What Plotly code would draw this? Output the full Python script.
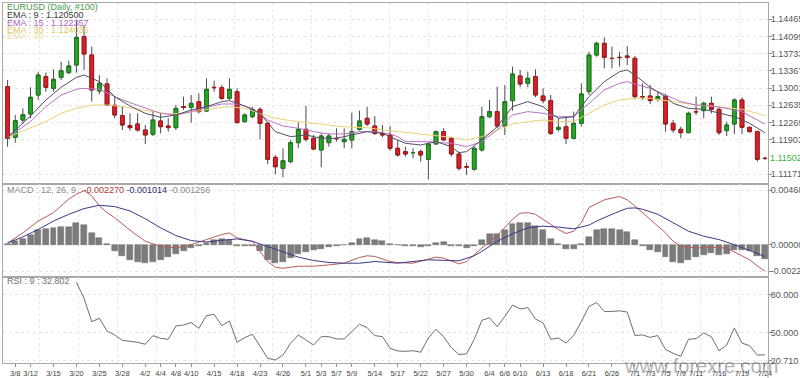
import plotly.graph_objects as go

# ---------------- data ----------------
dates = ["3/7","3/8","3/11","3/12","3/13","3/14","3/15","3/18","3/19","3/20","3/21","3/22","3/25","3/26","3/27","3/28","3/29",
         "4/1","4/2","4/3","4/4","4/5","4/8","4/9","4/10","4/11","4/12","4/15","4/16","4/17","4/18","4/19","4/22","4/23","4/24","4/25","4/26","4/29","4/30",
         "5/1","5/2","5/3","5/6","5/7","5/8","5/9","5/10","5/13","5/14","5/15","5/16","5/17","5/20","5/21","5/22","5/23","5/24","5/27","5/28","5/29","5/30","5/31",
         "6/3","6/4","6/5","6/6","6/7","6/10","6/11","6/12","6/13","6/14","6/17","6/18","6/19","6/20","6/21","6/24","6/25","6/26","6/27","6/28",
         "7/1","7/2","7/3","7/4","7/5","7/8","7/9","7/10","7/11","7/12","7/15","7/16","7/17","7/18","7/19","7/22","7/23","7/24"]

open_ = [1.13031,1.11952,1.12321,1.12449,1.12853,1.13244,1.12995,1.13229,1.13329,1.13492,
         1.14095,1.13705,1.12939,1.13088,1.12633,1.12413,1.12200,1.12236,1.12108,1.12016,
         1.12300,1.12193,1.12158,1.12605,1.12591,1.12711,1.12513,1.13017,1.13010,1.12782,
         1.12924,1.12286,1.12392,1.12548,1.12250,1.11526,1.11292,1.11434,1.11838,1.12122,
         1.11931,1.11682,1.11838,1.11931,1.11860,1.11895,1.12122,1.12357,1.12193,1.12037,
         1.12002,1.11718,1.11647,1.11626,1.11647,1.11484,1.11810,1.12073,1.11931,1.11597,
         1.11327,1.11271,1.11682,1.12392,1.12499,1.12193,1.12733,1.13258,1.13102,1.13244,
         1.12832,1.12733,1.12122,1.12179,1.11931,1.12250,1.12924,1.13705,1.13953,1.13634,
         1.13655,1.13684,1.13634,1.12818,1.12832,1.12761,1.12818,1.12250,1.12122,1.12051,
         1.12499,1.12520,1.12676,1.12548,1.12094,1.12236,1.12747,1.12165,1.12073,1.11505]
high = [1.13173,1.12428,1.12569,1.13017,1.13350,1.13329,1.13400,1.13563,1.13584,1.14436,
        1.14344,1.13882,1.13279,1.13208,1.12818,1.12619,1.12463,1.12463,1.12215,1.12499,
        1.12463,1.12357,1.12640,1.12818,1.12853,1.12889,1.13208,1.13159,1.13066,1.13208,
        1.12995,1.12463,1.12605,1.12591,1.12286,1.11576,1.11718,1.11895,1.12264,1.12619,
        1.12002,1.12037,1.12037,1.12144,1.12144,1.12477,1.12520,1.12605,1.12406,1.12215,
        1.12193,1.11895,1.11753,1.11718,1.11697,1.11838,1.12094,1.12144,1.11966,1.11647,
        1.11413,1.11753,1.12605,1.12747,1.13031,1.13066,1.13457,1.13386,1.13350,1.13400,
        1.12995,1.12853,1.12357,1.12392,1.12499,1.13102,1.13776,1.13989,1.14081,1.13882,
        1.13776,1.13897,1.13684,1.13102,1.13066,1.12924,1.12875,1.12321,1.12179,1.12499,
        1.12818,1.12711,1.12818,1.12591,1.12286,1.12782,1.12804,1.12179,1.12094,1.11540]
low = [1.11753,1.11838,1.12250,1.12357,1.12747,1.12924,1.12924,1.13173,1.13300,1.13329,
       1.13386,1.12711,1.12868,1.12619,1.12357,1.12108,1.12094,1.12073,1.11810,1.11980,
       1.12037,1.12073,1.12108,1.12534,1.12264,1.12463,1.12499,1.12924,1.12747,1.12747,
       1.12250,1.12264,1.12357,1.11909,1.11384,1.11171,1.11100,1.11398,1.11718,1.11860,
       1.11682,1.11313,1.11753,1.11860,1.11718,1.11718,1.12094,1.12193,1.12002,1.11952,
       1.11668,1.11540,1.11540,1.11505,1.11434,1.11058,1.11803,1.11881,1.11540,1.11242,
       1.11150,1.11242,1.11647,1.12357,1.12144,1.12002,1.12520,1.13017,1.13017,1.12804,
       1.12676,1.12002,1.12073,1.11810,1.11909,1.12179,1.12853,1.13670,1.13421,1.13421,
       1.13457,1.13492,1.12761,1.12747,1.12662,1.12711,1.12073,1.12051,1.11931,1.12037,
       1.12428,1.12357,1.12463,1.12002,1.11980,1.12023,1.12023,1.12051,1.11434,1.11469]
close = [1.11931,1.12307,1.12435,1.12804,1.13279,1.13017,1.13187,1.13371,1.13471,1.14081,
         1.13726,1.12960,1.13102,1.12640,1.12428,1.12215,1.12158,1.12108,1.12002,1.12321,
         1.12179,1.12158,1.12569,1.12591,1.12676,1.12499,1.12974,1.13010,1.12782,1.12974,
         1.12264,1.12428,1.12548,1.12250,1.11484,1.11327,1.11455,1.11838,1.12122,1.11909,
         1.11704,1.11980,1.11980,1.11924,1.11909,1.12073,1.12300,1.12236,1.12037,1.12002,
         1.11718,1.11576,1.11597,1.11626,1.11576,1.11810,1.12073,1.11895,1.11597,1.11292,
         1.11320,1.11718,1.12392,1.12499,1.12193,1.12711,1.13300,1.13088,1.13208,1.12853,
         1.12733,1.12037,1.12165,1.11931,1.12250,1.12875,1.13705,1.13953,1.13655,1.13630,
         1.13650,1.13655,1.12818,1.12815,1.12733,1.12818,1.12236,1.12108,1.12051,1.12463,
         1.12495,1.12676,1.12548,1.12051,1.12215,1.12747,1.12165,1.12073,1.11484,1.11502]

ema9_idx = [0,3,5,7,9,10,12,14,16,18,20,22,24,26,28,29,31,33,35,37,39,41,43,45,47,49,51,52,54,56,58,59,60,
            62,64,66,68,70,71,72,74,76,78,80,81,82,84,86,87,89,91,93,95,97,99]
ema9_val = [1.11952,1.12406,1.12747,1.13017,1.13229,1.13279,1.13137,1.12818,1.12619,1.12463,1.12378,1.12428,
            1.12534,1.12605,1.12711,1.12733,1.12619,1.12463,1.12073,1.11966,1.12002,1.11931,1.11931,1.12002,
            1.12073,1.12037,1.11895,1.11824,1.11789,1.11860,1.11753,1.11626,1.11647,1.11895,1.12179,1.12605,
            1.12711,1.12605,1.12463,1.12357,1.12392,1.12818,1.13137,1.13350,1.13386,1.13279,1.13017,1.12818,
            1.12676,1.12569,1.12548,1.12463,1.12392,1.12250,1.12050]
ema15_idx = [0,3,5,7,9,10,12,14,16,18,20,22,24,26,28,30,32,34,36,38,40,42,44,46,48,50,51,52,55,58,60,
             62,64,66,68,70,72,74,76,78,80,81,82,84,86,88,90,92,94,96,98,99]
ema15_val = [1.11952,1.12286,1.12605,1.12853,1.12974,1.12995,1.12974,1.12818,1.12690,1.12569,1.12463,1.12428,
             1.12499,1.12591,1.12662,1.12662,1.12569,1.12321,1.12193,1.12144,1.12073,1.12023,1.12023,1.12073,
             1.12073,1.12023,1.11966,1.11860,1.11860,1.11824,1.11753,1.11860,1.12108,1.12428,1.12499,1.12463,
             1.12392,1.12392,1.12676,1.12960,1.13102,1.13137,1.13088,1.12995,1.12853,1.12711,1.12640,1.12619,
             1.12569,1.12499,1.12321,1.12236]
ema30_idx = [0,3,5,7,9,11,13,15,17,19,21,23,25,27,29,31,33,35,37,39,41,43,45,47,49,51,52,55,58,60,
             62,64,66,68,70,72,74,76,78,80,82,84,86,88,90,92,94,96,98,99]
ema30_val = [1.11952,1.12144,1.12286,1.12463,1.12569,1.12640,1.12640,1.12605,1.12548,1.12499,1.12449,1.12463,
             1.12520,1.12569,1.12605,1.12569,1.12463,1.12357,1.12307,1.12264,1.12236,1.12193,1.12165,1.12158,
             1.12108,1.12073,1.12051,1.12002,1.11952,1.11895,1.11966,1.12108,1.12236,1.12286,1.12321,1.12286,
             1.12286,1.12463,1.12640,1.12747,1.12782,1.12782,1.12733,1.12676,1.12640,1.12619,1.12591,1.12548,
             1.12463,1.12406]

macd_idx = [0,2,4,6,8,9,10,11,12,13,14,16,18,20,22,24,26,28,29,30,32,34,35,36,38,40,42,44,46,47,48,50,
            51,53,55,56,57,59,60,62,64,66,67,68,69,70,72,73,74,75,76,78,80,81,82,84,86,87,88,90,92,94,96,97,98,99]
macd_val = [0.000145,0.001012,0.002024,0.002746,0.003903,0.004337,0.004626,0.004192,0.003325,0.002746,
            0.002313,0.001243,0.000289,-0.000145,-0.000289,0.0,0.000434,0.000867,0.001012,0.000578,
            0.000289,-0.001446,-0.001937,-0.002024,-0.001850,-0.001850,-0.001735,-0.001590,-0.001100,
            -0.000954,-0.001012,-0.001446,-0.001532,-0.001590,-0.001243,-0.001070,-0.001156,-0.001648,
            -0.001446,-0.000289,0.000781,0.002168,0.002689,0.002746,0.002602,0.002168,0.001301,0.000954,
            0.001156,0.001879,0.003180,0.003845,0.004134,0.003845,0.003325,0.002168,0.001012,0.000289,
            -0.000145,-0.000289,-0.000231,-0.000289,-0.000954,-0.001301,-0.001821,-0.002270]
signal_idx = [0,2,4,6,8,10,12,14,16,18,20,22,24,26,28,30,32,34,36,38,40,42,44,46,48,50,51,55,59,61,62,
              64,66,68,70,72,74,76,77,79,81,82,83,85,87,89,91,93,95,97,99]
signal_val = [0.000145,0.000665,0.001301,0.002024,0.002602,0.003093,0.003382,0.003267,0.002891,0.002226,
              0.001446,0.000781,0.000347,0.000231,0.000376,0.000491,0.000289,-0.000145,-0.000578,-0.001070,
              -0.001359,-0.001532,-0.001590,-0.001590,-0.001446,-0.001532,-0.001590,-0.001301,-0.001388,
              -0.000954,-0.000578,0.000289,0.000925,0.001446,0.001590,0.001503,0.001359,0.001677,0.002024,
              0.002602,0.003122,0.003151,0.003036,0.002602,0.001879,0.001156,0.000723,0.000434,0.0,
              -0.000491,-0.001014]
hist_val = [0.00002,0.000289,0.000491,0.000867,0.001243,0.001359,0.001446,0.001503,0.001532,0.001821,
            0.001706,0.001012,0.000578,0.00003,-0.000578,-0.001012,-0.001301,-0.001446,-0.001590,-0.001446,
            -0.001301,-0.001070,-0.000781,-0.000578,-0.000289,-0.000145,0.000145,0.000434,0.000491,0.000434,
            -0.000087,-0.000145,-0.000145,-0.000578,-0.001301,-0.001532,-0.001446,-0.001156,-0.000781,-0.000665,
            -0.000491,-0.000376,-0.000202,-0.000087,-0.00003,0.000145,0.000491,0.000578,0.000434,0.000347,
            0.000087,-0.00003,-0.000145,-0.000145,-0.000202,-0.000087,0.000145,0.000231,-0.000087,-0.000145,
            -0.000289,-0.000145,0.000434,0.000925,0.000925,0.001243,0.001735,0.001821,0.001879,0.001590,
            0.001243,0.000491,0.00002,-0.000376,-0.000376,0.00002,0.000665,0.001243,0.001359,0.001359,
            0.001243,0.001070,0.000376,-0.000145,-0.000434,-0.000665,-0.001070,-0.001446,-0.001590,-0.001301,
            -0.001070,-0.000867,-0.000723,-0.000867,-0.000781,-0.000434,-0.000434,-0.000578,-0.000954,-0.001256]

rsi_start = 9
rsi_val = [90.0,77.4,58.9,61.6,51.6,48.4,44.2,43.4,42.6,41.1,47.9,45.8,45.0,55.5,56.3,58.2,53.7,63.7,64.7,55.8,
           59.5,42.6,46.3,49.0,39.2,30.0,28.7,32.6,41.9,48.4,44.5,40.5,47.1,47.1,45.3,45.3,51.1,56.9,54.2,47.9,
           47.1,37.9,35.8,35.5,36.0,34.8,46.0,53.0,47.0,38.5,33.0,33.5,45.0,60.0,62.0,55.0,63.0,72.0,69.0,70.0,
           61.0,58.0,45.0,46.0,42.0,48.0,59.0,71.0,74.0,67.0,67.0,67.5,66.5,48.0,48.5,46.5,48.0,37.0,34.0,31.5,
           45.0,45.5,50.0,47.0,36.0,40.5,54.0,42.0,40.0,32.5,32.8]

xtick_labels = ["3/8","3/12","3/15","3/20","3/25","3/28","4/2","4/4","4/8","4/10","4/15","4/18","4/23","4/26",
                "5/1","5/3","5/7","5/9","5/14","5/17","5/22","5/27","5/30","6/4","6/6","6/10","6/13","6/18",
                "6/21","6/26","7/1","7/3","7/5","7/9","7/11","7/16","7/19","7/24"]
price_ticks = [1.11171, 1.11903, 1.12269, 1.12635, 1.13001, 1.13367, 1.13733, 1.14099, 1.14465]
macd_ticks = [-0.002270, 0.0, 0.004683]
rsi_ticks = [50.0, 80.0]

# ---------------- figure ----------------
idx = list(range(len(dates)))
xtick_vals = [dates.index(d) for d in xtick_labels]
body_hi = [max(o, c) for o, c in zip(open_, close)]
body_lo = [min(o, c) for o, c in zip(open_, close)]

FONT = "Liberation Sans, Arial, sans-serif"
fig = go.Figure()

# wicks
fig.add_trace(go.Candlestick(
    x=idx, open=open_, high=high, low=low, close=close,
    increasing=dict(line=dict(color="#4a4a4a", width=1), fillcolor="#4a4a4a"),
    decreasing=dict(line=dict(color="#4a4a4a", width=1), fillcolor="#4a4a4a"),
    xaxis="x", yaxis="y", showlegend=False, hoverinfo="skip"))
# bodies
fig.add_trace(go.Candlestick(
    x=idx, open=open_, high=body_hi, low=body_lo, close=close,
    increasing=dict(line=dict(color="#1d7a1d", width=1), fillcolor="#26a526"),
    decreasing=dict(line=dict(color="#a81818", width=1), fillcolor="#d8202a"),
    xaxis="x", yaxis="y", showlegend=False, hoverinfo="skip"))

fig.add_trace(go.Scatter(x=ema30_idx, y=ema30_val, mode="lines", line=dict(color="#e9d27a", width=1),
                         xaxis="x", yaxis="y", showlegend=False, hoverinfo="skip"))
fig.add_trace(go.Scatter(x=ema15_idx, y=ema15_val, mode="lines", line=dict(color="#b873c4", width=1),
                         xaxis="x", yaxis="y", showlegend=False, hoverinfo="skip"))
fig.add_trace(go.Scatter(x=ema9_idx, y=ema9_val, mode="lines", line=dict(color="#4f5066", width=1),
                         xaxis="x", yaxis="y", showlegend=False, hoverinfo="skip"))

# MACD
fig.add_trace(go.Bar(x=idx, y=hist_val, width=0.78, marker=dict(color="#7c7c7c", line=dict(color="#686868", width=0.5)),
                     xaxis="x2", yaxis="y2", showlegend=False, hoverinfo="skip"))
fig.add_trace(go.Scatter(x=macd_idx, y=macd_val, mode="lines", line=dict(color="#b85a5a", width=1),
                         xaxis="x2", yaxis="y2", showlegend=False, hoverinfo="skip"))
fig.add_trace(go.Scatter(x=signal_idx, y=signal_val, mode="lines", line=dict(color="#3a3a86", width=1),
                         xaxis="x2", yaxis="y2", showlegend=False, hoverinfo="skip"))

# RSI
fig.add_trace(go.Scatter(x=list(range(rsi_start, rsi_start + len(rsi_val))), y=rsi_val, mode="lines",
                         line=dict(color="#6e6e6e", width=1), xaxis="x3", yaxis="y3",
                         showlegend=False, hoverinfo="skip"))

xr = [-0.6, 99.4]
common_x = dict(range=xr, showgrid=False, zeroline=False, showline=True, mirror=True,
                linecolor="#a8a8a8", linewidth=1, automargin=False,
                minor=dict(tick0=4.2, dtick=5.08, showgrid=True, gridcolor="#e8e8e8", griddash="dot", ticks=""))

def yaxis_cfg(dom, rng, vals, texts, anchor):
    return dict(side="right", anchor=anchor, domain=dom, range=rng, showline=True, mirror=True,
                linecolor="#a8a8a8", linewidth=1, zeroline=False, automargin=False,
                showgrid=True, gridcolor="#e6e6e6", griddash="dot",
                tickmode="array", tickvals=vals, ticktext=texts, ticks="",
                minor=dict(tickmode="array", tickvals=vals, ticks="outside", ticklen=3,
                           tickcolor="#909090", showgrid=False),
                tickfont=dict(family=FONT, size=9, color="#555555"))

d1, d2 = 0.2389, 0.4972
fig.update_layout(
    width=800, height=378, margin=dict(l=3, r=32, t=3, b=15, autoexpand=False),
    paper_bgcolor="white", plot_bgcolor="white", showlegend=False, bargap=0,
    xaxis=dict(common_x, anchor="y", domain=[0, 1], showticklabels=False, rangeslider=dict(visible=False)),
    xaxis2=dict(common_x, anchor="y2", domain=[0, 1], matches="x", showticklabels=False),
    xaxis3=dict(common_x, anchor="y3", domain=[0, 1], matches="x", tickmode="array", tickangle=0,
                tickvals=xtick_vals, ticktext=xtick_labels, ticks="outside", ticklen=3, tickcolor="#909090",
                tickfont=dict(family=FONT, size=7.5, color="#444444")),
    yaxis=yaxis_cfg([d2, 1], [1.10958, 1.14812], price_ticks, [f"{v:.5f}" for v in price_ticks], "x"),
    yaxis2=yaxis_cfg([d1, d2], [-0.002775, 0.005203], macd_ticks, [f"{v:.6f}" for v in macd_ticks], "x2"),
    yaxis3=yaxis_cfg([0, d1], [26.3, 94.2], rsi_ticks + [27.9],
                     [f"{v:.3f}" for v in rsi_ticks] + ["20.710"], "x3"),
)

def label(y, text, color):
    fig.add_annotation(xref="paper", yref="paper", x=0.003, y=y, xanchor="left", yanchor="middle",
                       text=text, showarrow=False, font=dict(family=FONT, size=9, color=color))

H = 360.0
def py(pix):  # pixel row -> paper fraction
    return (363 - pix) / H

label(py(7), "EURUSD (Daily, #100)", "#4a9a4a")
label(py(15), "EMA : 9 : 1.120500", "#3a3a3a")
label(py(23), "EMA : 15 : 1.122357", "#b060c0")
label(py(30.5), "EMA : 30 : 1.124036", "#e2c860")
label(py(35.5), "EMA : 30", "#ece0a0")
label(py(190), "MACD : 12, 26, 9 : <span style='color:#b03a3a'>-0.002270</span> "
               "<span style='color:#2c2c70'>-0.001014</span> -0.001256", "#8a8a8a")
label(py(281), "RSI : 9 : 32.802", "#707070")

# current price label
fig.add_annotation(xref="paper", yref="y", x=1.0, y=close[-1], xanchor="left", yanchor="middle",
                   xshift=0, text=f"{close[-1]:.5f}", showarrow=False,
                   font=dict(family=FONT, size=9, color="#3cb040"))

# watermark
fig.add_annotation(xref="paper", yref="paper", x=0.912, y=py(366), xanchor="center", yanchor="middle",
                   text="www.forexre.com", showarrow=False,
                   font=dict(family=FONT, size=20, color="rgba(110,110,110,0.55)"))

# axis line continuing below
fig.add_shape(type="line", xref="paper", yref="paper", x0=1, x1=1, y0=0, y1=-15 / H,
              line=dict(color="#a8a8a8", width=1))

fig.write_html("out.html", config={"displayModeBar": False},
               post_script="document.body.style.margin='0px';document.body.style.overflow='hidden';")
